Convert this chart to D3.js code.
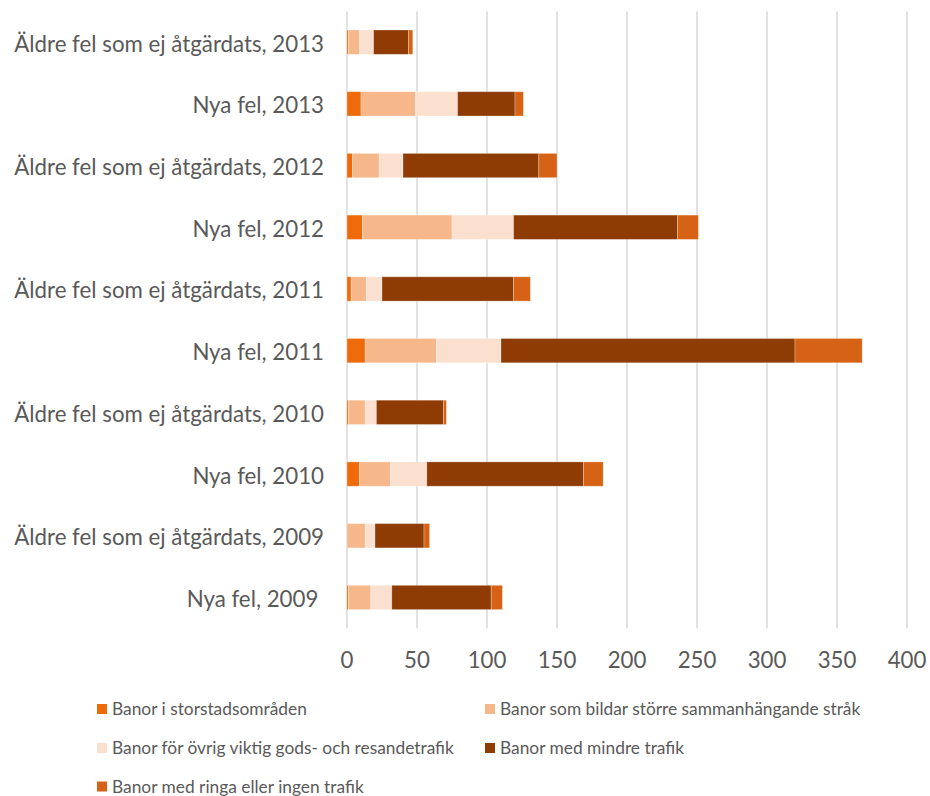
<!DOCTYPE html>
<html><head><meta charset="utf-8">
<script src="https://cdn.jsdelivr.net/npm/d3@7"></script>
<style>
body{margin:0;background:#fff}
svg text{font-family:Lato,"Open Sans",sans-serif;fill:#595959}
</style>
</head><body>
<svg id="chart" width="930" height="796"></svg>
<script>
// Categories, bottom to top as in the data sheet
const categories = [
  "Nya fel, 2009 ",
  "Äldre fel som ej åtgärdats, 2009",
  "Nya fel, 2010",
  "Äldre fel som ej åtgärdats, 2010",
  "Nya fel, 2011",
  "Äldre fel som ej åtgärdats, 2011",
  "Nya fel, 2012",
  "Äldre fel som ej åtgärdats, 2012",
  "Nya fel, 2013",
  "Äldre fel som ej åtgärdats, 2013"
];
const seriesNames = [
  "Banor i storstadsområden",
  "Banor som bildar större sammanhängande stråk",
  "Banor för övrig viktig gods- och resandetrafik",
  "Banor med mindre trafik",
  "Banor med ringa eller ingen trafik"
];
const storstad = [1, 0, 9, 1, 13, 3, 11, 4, 10, 1];
const storre   = [16, 13, 22, 12, 51, 11, 64, 19, 39, 8];
const ovrig    = [15, 7, 26, 8, 46, 11, 44, 17, 30, 10];
const mindre   = [71, 35, 112, 48, 210, 94, 117, 97, 41, 25];
const ringa    = [8, 4, 14, 2, 48, 12, 15, 13, 6, 3];
const seriesValues = [storstad, storre, ovrig, mindre, ringa];
const colors = ["#EE6A0B", "#F6B78A", "#FBE0CF", "#8E3C04", "#D66315"];
const xTicks = [0, 50, 100, 150, 200, 250, 300, 350, 400];

const svg = d3.select("#chart");

// fit font sizes to the reference's text widths
function fitSize(str, targetW) {
  const t = svg.append("text").attr("font-size", 100).style("white-space","pre").text(str);
  const w = t.node().getComputedTextLength();
  t.remove();
  return 100 * targetW / w;
}
const catSize = fitSize("Äldre fel som ej åtgärdats, 2013", 310);
const legSize = fitSize("Banor i storstadsområden", 195);

const x = d3.scaleLinear().domain([0, 400]).range([347, 907]);
const y = d3.scaleBand().domain(categories.slice().reverse())
  .range([11.3, 628.3]).paddingInner(0.606).paddingOuter(0.303);

// gridlines
svg.append("g").selectAll("line").data(xTicks).join("line")
  .attr("x1", d => x(d)).attr("x2", d => x(d))
  .attr("y1", 11.3).attr("y2", 628.3)
  .attr("stroke", "#D9D9D9").attr("stroke-width", 1.5);

// stacked data
const table = categories.map((c, i) => {
  const o = {cat: c};
  seriesNames.forEach((s, j) => o[s] = seriesValues[j][i]);
  return o;
});
const stacked = d3.stack().keys(seriesNames)(table);

svg.append("g").selectAll("g").data(stacked).join("g")
  .attr("fill", (d, i) => colors[i])
  .selectAll("rect").data(d => d).join("rect")
  .attr("x", d => x(d[0]))
  .attr("width", d => Math.max(0, x(d[1]) - x(d[0])))
  .attr("y", d => y(d.data.cat))
  .attr("height", y.bandwidth())
  .attr("stroke", "#fff").attr("stroke-opacity", 0.35).attr("stroke-width", 0.8);

// category labels
svg.append("g").selectAll("text").data(categories).join("text")
  .attr("x", 324)
  .attr("y", d => y(d) + y.bandwidth() / 2 + 9.5)
  .attr("text-anchor", "end")
  .attr("font-size", catSize)
  .style("white-space", "pre")
  .text(d => d);

// x tick labels
svg.append("g").selectAll("text").data(xTicks).join("text")
  .attr("x", d => x(d))
  .attr("y", 667.5)
  .attr("text-anchor", "middle")
  .attr("font-size", catSize)
  .text(d => d);

// legend
const legPos = [[97, 709], [485, 709], [97, 748], [485, 748], [97, 786.5]];
const leg = svg.append("g").selectAll("g").data(seriesNames).join("g")
  .attr("transform", (d, i) => `translate(${legPos[i][0]},${legPos[i][1]})`);
leg.append("rect").attr("x", 0).attr("y", -5).attr("width", 10).attr("height", 10)
  .attr("fill", (d, i) => colors[i]);
leg.append("text").attr("x", 15).attr("y", 6).attr("font-size", legSize).text(d => d);
</script>
</body></html>
